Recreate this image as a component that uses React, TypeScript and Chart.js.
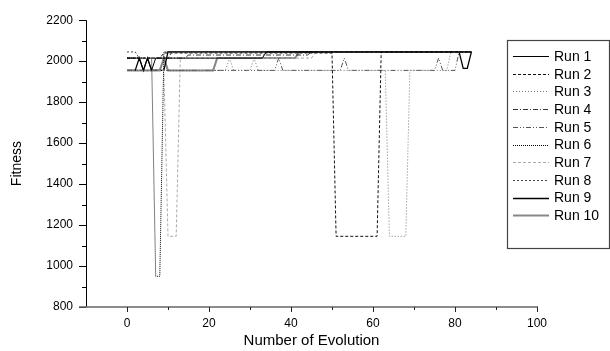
import React, { useEffect, useRef } from "react";
import { Chart, registerables } from "chart.js";

Chart.register(...registerables);

// ---- data (x = evolution number, y = fitness), breakpoints ----
const runLabels = ["Run 1", "Run 2", "Run 3", "Run 4", "Run 5", "Run 6", "Run 7", "Run 8", "Run 9", "Run 10"];

const run1 = [[0, 2015], [3, 2015], [4, 1955], [5, 2015], [6, 1955], [7, 2015], [33, 2015], [34, 2045], [84, 2045]];
const run2 = [[0, 2015], [8, 2015], [9, 2040], [50, 2040], [51, 1145], [61, 1145], [62, 2045], [84, 2045]];
const run3 = [[0, 1955], [24, 1955], [25, 2015], [26, 1955], [30, 1955], [31, 2015], [32, 1955], [63, 1955], [64, 1145], [68, 1145], [69, 1955], [78, 1955], [79, 2045], [84, 2045]];
const run4 = [[0, 2015], [14, 2015], [15, 2030], [44, 2030], [45, 2045], [84, 2045]];
const run5 = [[0, 1955], [36, 1955], [37, 2015], [38, 1955], [52, 1955], [53, 2015], [54, 1955], [75, 1955], [76, 2015], [77, 1955], [80, 1955], [81, 2045], [84, 2045]];
const run6 = [[0, 2015], [6, 2015], [7, 950], [8, 950], [9, 2045], [84, 2045]];
const run7 = [[0, 1955], [9, 1955], [10, 1145], [12, 1145], [13, 2015], [45, 2015], [46, 2045], [84, 2045]];
const run8 = [[0, 2045], [2, 2045], [3, 2015], [10, 2015], [11, 2045], [84, 2045]];
const run9 = [[0, 1955], [2, 1955], [3, 2015], [4, 1955], [5, 2015], [6, 1955], [9, 1955], [10, 2045], [81, 2045], [82, 1965], [83, 1965], [84, 2045]];
const run10 = [[0, 1955], [8, 1955], [9, 2015], [10, 1955], [21, 1955], [22, 2015], [41, 2015], [42, 2045], [84, 2045]];

const runs = [run1, run2, run3, run4, run5, run6, run7, run8, run9, run10];

const xMajorTicks = [0, 20, 40, 60, 80, 100];
const xMinorTicks = [10, 30, 50, 70, 90];
const yMinorTicks = [900, 1100, 1300, 1500, 1700, 1900, 2100];

// ---- styles ----
const runStyles = [
  { color: "#000000", width: 1, dash: [] as number[] },
  { color: "#111111", width: 1, dash: [3, 2] },
  { color: "#777777", width: 1, dash: [1, 2] },
  { color: "#333333", width: 1, dash: [5, 2, 1, 2] },
  { color: "#555555", width: 1, dash: [5, 2, 1, 2, 1, 2] },
  { color: "#000000", width: 1, dash: [1, 1] },
  { color: "#aaaaaa", width: 1, dash: [3, 2] },
  { color: "#444444", width: 1, dash: [2, 2] },
  { color: "#000000", width: 1.3, dash: [] as number[] },
  { color: "#888888", width: 2, dash: [] as number[] },
];

const FONT = "'Liberation Sans', Arial, Helvetica, sans-serif";

const customPlugin = {
  id: "customAxesLegend",
  afterDraw(chart: any) {
    const { ctx, chartArea } = chart;
    const { left, right, top, bottom } = chartArea;
    const xs = chart.scales.x;
    const ys = chart.scales.y;
    ctx.save();
    // left axis
    ctx.strokeStyle = "#000";
    ctx.lineWidth = 1;
    ctx.beginPath();
    ctx.moveTo(left + 0.5, top);
    ctx.lineTo(left + 0.5, bottom);
    ctx.stroke();
    // y ticks
    ys.ticks.forEach((t: any) => {
      const py = Math.round(ys.getPixelForValue(t.value)) + 0.5;
      ctx.beginPath();
      ctx.moveTo(left - 7, py);
      ctx.lineTo(left, py);
      ctx.stroke();
    });
    yMinorTicks.forEach((v) => {
      const py = Math.round(ys.getPixelForValue(v)) + 0.5;
      ctx.beginPath();
      ctx.moveTo(left - 4, py);
      ctx.lineTo(left, py);
      ctx.stroke();
    });
    // bottom axis
    ctx.strokeStyle = "#666";
    ctx.lineWidth = 1.5;
    ctx.beginPath();
    ctx.moveTo(left - 7, bottom);
    ctx.lineTo(right + 1, bottom);
    ctx.stroke();
    ctx.lineWidth = 1;
    ctx.strokeStyle = "#222";
    xMajorTicks.forEach((v) => {
      const px = Math.round(xs.getPixelForValue(v)) + 0.5;
      ctx.beginPath();
      ctx.moveTo(px, bottom);
      ctx.lineTo(px, bottom + 5);
      ctx.stroke();
    });
    xMinorTicks.forEach((v) => {
      const px = Math.round(xs.getPixelForValue(v)) + 0.5;
      ctx.beginPath();
      ctx.moveTo(px, bottom);
      ctx.lineTo(px, bottom + 3);
      ctx.stroke();
    });
    // legend box
    const bx = 507.5, by = 40.5, bw = 102, bh = 208;
    ctx.strokeStyle = "#444";
    ctx.lineWidth = 1.2;
    ctx.strokeRect(bx, by, bw, bh);
    ctx.font = `14px ${FONT}`;
    ctx.textBaseline = "middle";
    ctx.textAlign = "left";
    chart.data.datasets.forEach((ds: any, i: number) => {
      const cy = 56 + i * 17.7;
      ctx.save();
      ctx.strokeStyle = ds.borderColor;
      ctx.lineWidth = ds.borderWidth;
      ctx.setLineDash(ds.borderDash || []);
      ctx.beginPath();
      ctx.moveTo(513, Math.round(cy) + 0.5);
      ctx.lineTo(549, Math.round(cy) + 0.5);
      ctx.stroke();
      ctx.restore();
      ctx.fillStyle = "#000";
      ctx.fillText(ds.label, 554, cy + 1);
    });
    ctx.restore();
  },
};

export default function App() {
  const ref = useRef<HTMLCanvasElement | null>(null);
  useEffect(() => {
    if (!ref.current) return;
    const chart = new Chart(ref.current, {
      type: "line",
      data: {
        datasets: runs.map((r, i) => ({
          label: runLabels[i],
          data: r.map(([x, y]) => ({ x, y })),
          borderColor: runStyles[i].color,
          borderWidth: runStyles[i].width,
          borderDash: runStyles[i].dash,
          pointRadius: 0,
          fill: false,
          tension: 0,
        })),
      },
      options: {
        animation: false,
        responsive: false,
        layout: { padding: { top: 15, right: 73, left: 0, bottom: 0 } },
        plugins: { legend: { display: false }, tooltip: { enabled: false } },
        scales: {
          x: {
            type: "linear",
            min: -10,
            max: 100,
            afterBuildTicks: (s: any) => {
              s.ticks = xMajorTicks.map((v) => ({ value: v }));
            },
            afterFit: (s: any) => {
              s.height = 44;
            },
            grid: { display: false, drawTicks: false },
            border: { display: false },
            ticks: {
              color: "#000",
              font: { family: FONT, size: 12 },
              padding: 9,
              maxRotation: 0,
              autoSkip: false,
              callback: (v: any) => String(v),
            },
            title: {
              display: true,
              text: "Number of Evolution",
              color: "#000",
              font: { family: FONT, size: 15 },
              padding: { top: 0, bottom: 1 },
            },
          },
          y: {
            type: "linear",
            min: 800,
            max: 2200,
            ticks: {
              stepSize: 200,
              color: "#000",
              font: { family: FONT, size: 12 },
              padding: 13,
              callback: (v: any) => String(v),
            },
            afterFit: (s: any) => {
              s.width = 86;
            },
            grid: { display: false, drawTicks: false },
            border: { display: false },
            title: {
              display: true,
              text: "Fitness",
              color: "#000",
              font: { family: FONT, size: 14 },
              padding: { top: 9, bottom: 0 },
            },
          },
        },
      },
      plugins: [customPlugin],
    });
    return () => chart.destroy();
  }, []);
  return (
    <div style={{ position: "absolute", left: 0, top: 0, width: 610, height: 351, background: "#fff" }}>
      <canvas ref={ref} width={610} height={351} />
    </div>
  );
}
